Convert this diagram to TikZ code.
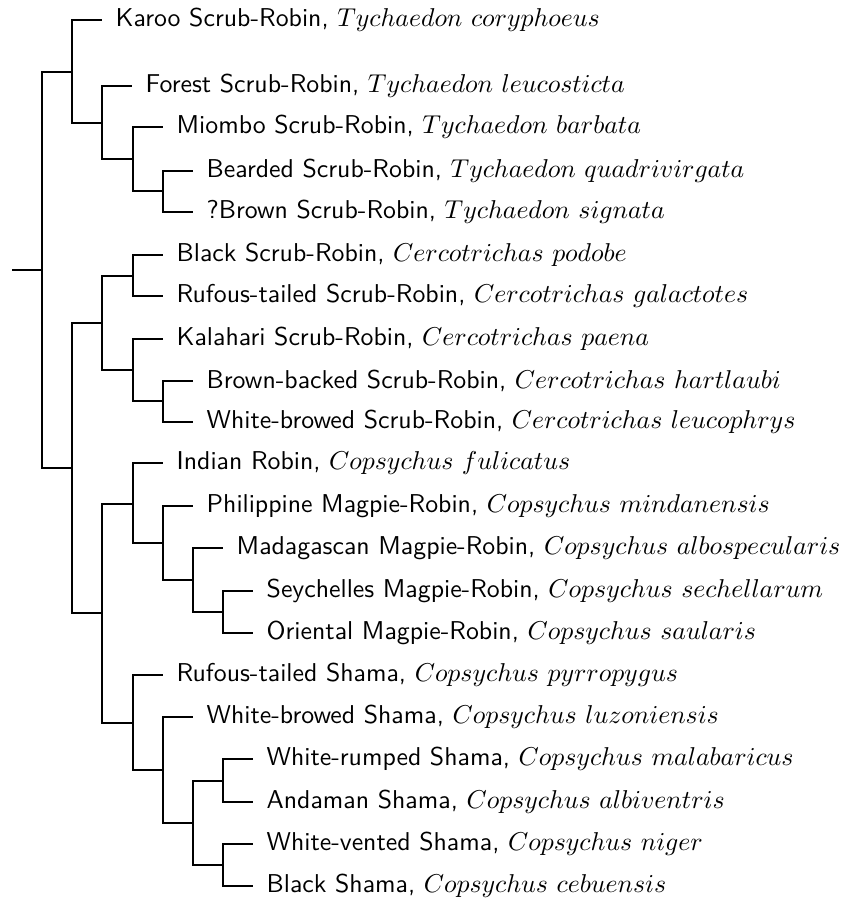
\documentclass[tikz,border=0pt]{standalone}
\usepackage{amsmath}
\usepackage{tikz}
\tikzset{taxon/.style = {anchor=west, inner xsep=4.9pt, font=\sffamily}}
\newcommand{\species}[2]{#1, $#2$}

\begin{document}
\begin{tikzpicture}[x=.3876pt, y=-.3876pt, thick]
      \useasboundingbox (0,0) rectangle (842,905);
      % inner nodes of the tree
      \coordinate (stem) at (12,270);
      \coordinate (root) at (42,270);
      \coordinate (tych) at (72,72);
      \coordinate (tychA) at (102,123);
      \coordinate (tychB) at (133,159);
      \coordinate (tychC) at (163,191);
      \coordinate (core) at (72,468);
      \coordinate (cerco) at (102,323);
      \coordinate (cercoA) at (133,276);
      \coordinate (cercoB) at (133,370);
      \coordinate (cercoC) at (163,401);
      \coordinate (cops) at (102,613);
      \coordinate (copsA) at (133,504);
      \coordinate (copsB) at (163,543);
      \coordinate (copsC) at (193,580);
      \coordinate (copsD) at (223,612);
      \coordinate (shama) at (133,723);
      \coordinate (shamaA) at (163,770);
      \coordinate (shamaB) at (193,823);
      \coordinate (shamaC) at (223,781);
      \coordinate (shamaD) at (223,865);
      % leaves
      \node[taxon] (karoo) at (102,20) {\species{Karoo Scrub-Robin}{Tychaedon\ coryphoeus}};
      \node[taxon] (forest) at (132,86) {\species{Forest Scrub-Robin}{Tychaedon\ leucosticta}};
      \node[taxon] (miombo) at (163,127) {\species{Miombo Scrub-Robin}{Tychaedon\ barbata}};
      \node[taxon] (bearded) at (193,171) {\species{Bearded Scrub-Robin}{Tychaedon\ quadrivirgata}};
      \node[taxon] (brown) at (193,212) {\species{?Brown Scrub-Robin}{Tychaedon\ signata}};
      \node[taxon] (black) at (163,255) {\species{Black Scrub-Robin}{Cercotrichas\ podobe}};
      \node[taxon] (rufous) at (163,296) {\species{Rufous-tailed Scrub-Robin}{Cercotrichas\ galactotes}};
      \node[taxon] (kalahari) at (163,339) {\species{Kalahari Scrub-Robin}{Cercotrichas\ paena}};
      \node[taxon] (backed) at (193,381) {\species{Brown-backed Scrub-Robin}{Cercotrichas\ hartlaubi}};
      \node[taxon] (browed) at (193,422) {\species{White-browed Scrub-Robin}{Cercotrichas\ leucophrys}};
      \node[taxon] (indian) at (163,463) {\species{Indian Robin}{Copsychus\ fulicatus}};
      \node[taxon] (philippine) at (193,506) {\species{Philippine Magpie-Robin}{Copsychus\ mindanensis}};
      \node[taxon] (madagascan) at (223,548) {\species{Madagascan Magpie-Robin}{Copsychus\ albospecularis}};
      \node[taxon] (seychelles) at (253,591) {\species{Seychelles Magpie-Robin}{Copsychus\ sechellarum}};
      \node[taxon] (oriental) at (253,633) {\species{Oriental Magpie-Robin}{Copsychus\ saularis}};
      \node[taxon] (rufshama) at (163,675) {\species{Rufous-tailed Shama}{Copsychus\ pyrropygus}};
      \node[taxon] (browshama) at (193,717) {\species{White-browed Shama}{Copsychus\ luzoniensis}};
      \node[taxon] (rumped) at (253,759) {\species{White-rumped Shama}{Copsychus\ malabaricus}};
      \node[taxon] (andaman) at (253,802) {\species{Andaman Shama}{Copsychus\ albiventris}};
      \node[taxon] (vented) at (253,844) {\species{White-vented Shama}{Copsychus\ niger}};
      \node[taxon] (blackshama) at (253,886) {\species{Black Shama}{Copsychus\ cebuensis}};
      % branches
      \draw (stem) -- (root);
      \draw (root) |- (tych) (root) |- (core);
      \draw (tych) |- (karoo.west) (tych) |- (tychA);
      \draw (tychA) |- (forest.west) (tychA) |- (tychB);
      \draw (tychB) |- (miombo.west) (tychB) |- (tychC);
      \draw (tychC) |- (bearded.west) (tychC) |- (brown.west);
      \draw (core) |- (cerco) (core) |- (cops);
      \draw (cerco) |- (cercoA) (cerco) |- (cercoB);
      \draw (cercoA) |- (black.west) (cercoA) |- (rufous.west);
      \draw (cercoB) |- (kalahari.west) (cercoB) |- (cercoC);
      \draw (cercoC) |- (backed.west) (cercoC) |- (browed.west);
      \draw (cops) |- (copsA) (cops) |- (shama);
      \draw (copsA) |- (indian.west) (copsA) |- (copsB);
      \draw (copsB) |- (philippine.west) (copsB) |- (copsC);
      \draw (copsC) |- (madagascan.west) (copsC) |- (copsD);
      \draw (copsD) |- (seychelles.west) (copsD) |- (oriental.west);
      \draw (shama) |- (rufshama.west) (shama) |- (shamaA);
      \draw (shamaA) |- (browshama.west) (shamaA) |- (shamaB);
      \draw (shamaB) |- (shamaC) (shamaB) |- (shamaD);
      \draw (shamaC) |- (rumped.west) (shamaC) |- (andaman.west);
      \draw (shamaD) |- (vented.west) (shamaD) |- (blackshama.west);
\end{tikzpicture}
\end{document}
